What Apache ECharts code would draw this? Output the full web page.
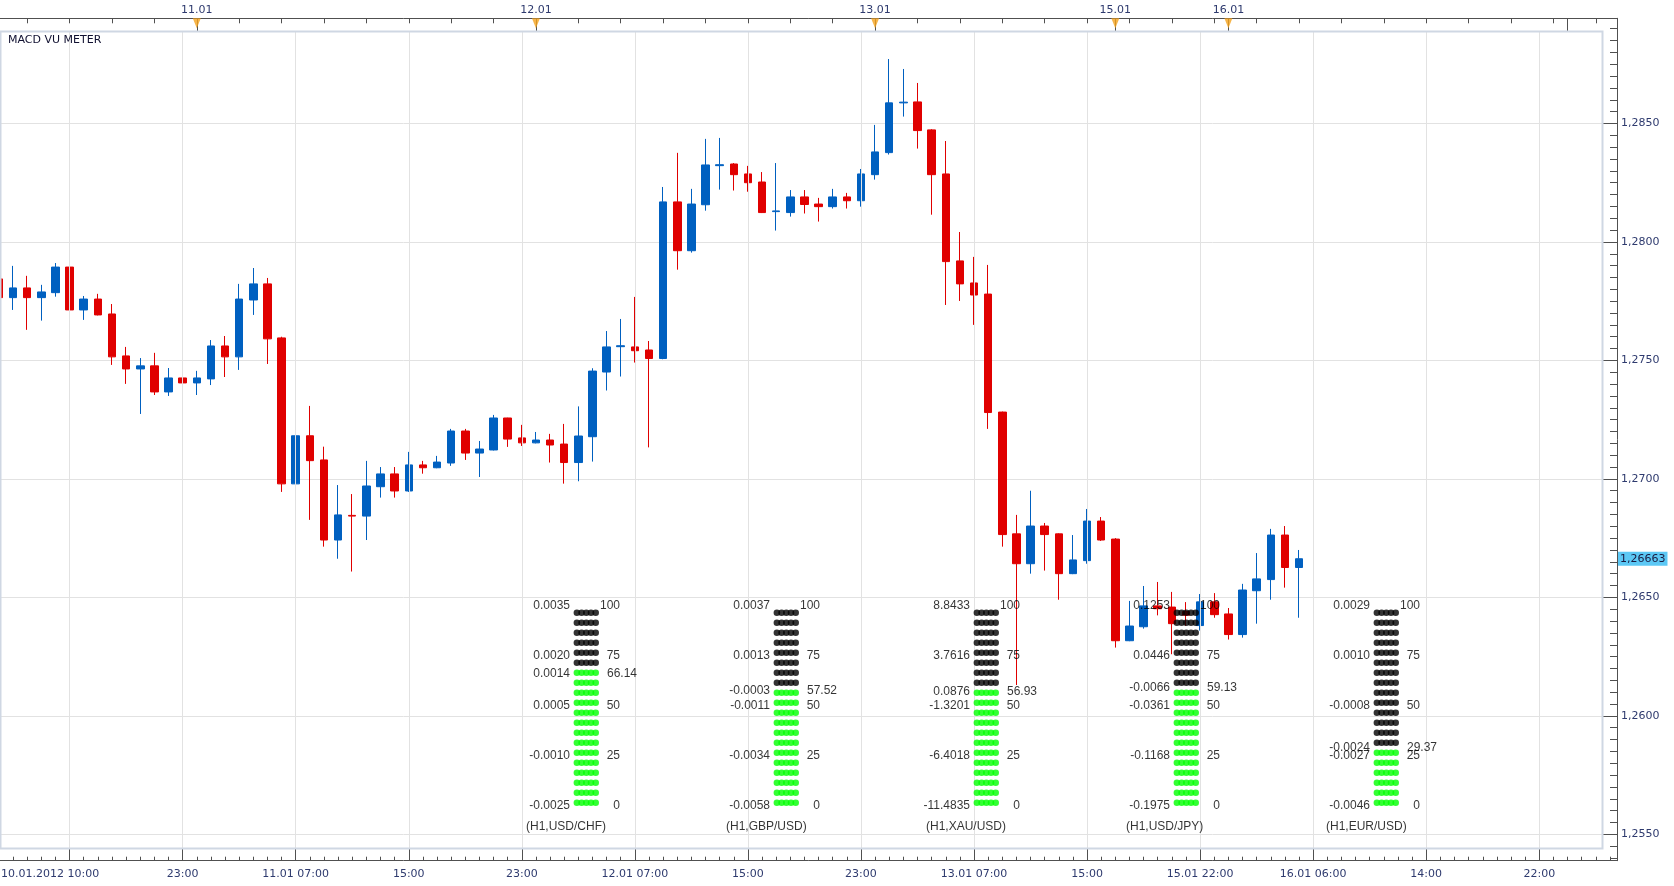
<!DOCTYPE html>
<html><head><meta charset="utf-8">
<script src="https://cdn.jsdelivr.net/npm/echarts@6/dist/echarts.min.js"></script>
<style>html,body{margin:0;padding:0;background:#fff}#c{width:1674px;height:886px}</style>
</head><body><div id="c"></div>
<script>
// ---------- time axis: one H1 bar per slot ----------
const daySegments = [
  ["10.01", 5, 10], ["10.01", 16, 23],
  ["11.01", 0, 23], ["12.01", 0, 23], ["13.01", 0, 16],
  ["15.01", 16, 23], ["16.01", 0, 23], ["17.01", 0, 3]
];
const xTickLabels = ["10.01.2012 10:00","23:00","11.01 07:00","15:00","23:00","12.01 07:00",
  "15:00","23:00","13.01 07:00","15:00","15.01 22:00","16.01 06:00","14:00","22:00"];

// ---------- EUR/USD H1 candles ----------
const open = [1.27844,1.27765,1.27806,1.27765,1.27786,1.27894,1.27713,1.27759,1.27696,1.27519,
1.27464,1.27477,1.27367,1.27426,1.27405,1.27422,1.27561,1.27515,1.27755,1.27823,
1.27595,1.26979,1.27182,1.27080,1.26742,1.26846,1.26843,1.26967,1.27021,1.26949,
1.27059,1.27047,1.27067,1.27202,1.27109,1.27122,1.27257,1.27173,1.27152,1.27164,
1.27147,1.27069,1.27178,1.27451,1.27558,1.27557,1.27544,1.27508,1.28169,1.27963,
1.28157,1.28322,1.28329,1.28287,1.28253,1.28128,1.28124,1.28190,1.28160,1.28149,
1.28190,1.28174,1.28284,1.28377,1.28587,1.28591,1.28473,1.28287,1.27920,1.27827,
1.27780,1.27282,1.26768,1.26642,1.26801,1.26768,1.26600,1.26655,1.26822,1.26746,
1.26317,1.26376,1.26464,1.26459,1.26440,1.26381,1.26481,1.26430,1.26343,1.26528,
1.26575,1.26763,1.26626];
const close = [1.27765,1.27806,1.27765,1.27789,1.27894,1.27713,1.27759,1.27692,1.27515,1.27464,
1.27477,1.27367,1.27426,1.27405,1.27426,1.27561,1.27515,1.27759,1.27823,1.27591,
1.26979,1.27182,1.27077,1.26742,1.26848,1.26843,1.26970,1.27021,1.26949,1.27059,
1.27047,1.27071,1.27202,1.27109,1.27126,1.27257,1.27168,1.27152,1.27164,1.27143,
1.27069,1.27181,1.27455,1.27557,1.27562,1.27541,1.27508,1.28169,1.27963,1.28160,
1.28325,1.28326,1.28284,1.28250,1.28124,1.28131,1.28190,1.28158,1.28149,1.28190,
1.28174,1.28287,1.28380,1.28587,1.28590,1.28470,1.28284,1.27917,1.27823,1.27776,
1.27280,1.26765,1.26642,1.26801,1.26765,1.26600,1.26658,1.26822,1.26742,1.26317,
1.26379,1.26464,1.26452,1.26389,1.26425,1.26481,1.26427,1.26343,1.26531,1.26578,
1.26763,1.26626,1.26663];
const low = [1.27740,1.27713,1.27629,1.27668,1.27769,1.27710,1.27671,1.27690,1.27481,1.27401,
1.27274,1.27354,1.27350,1.27384,1.27354,1.27396,1.27430,1.27460,1.27692,1.27485,
1.26945,1.26801,1.26827,1.26714,1.26663,1.26609,1.26742,1.26921,1.26921,1.26945,
1.27022,1.27045,1.27055,1.27080,1.27008,1.27120,1.27135,1.27139,1.27150,1.27069,
1.26980,1.26990,1.27073,1.27373,1.27432,1.27491,1.27133,1.27505,1.27883,1.27955,
1.28132,1.28221,1.28217,1.28212,1.28122,1.28048,1.28107,1.28120,1.28086,1.28141,
1.28141,1.28149,1.28263,1.28369,1.28529,1.28394,1.28115,1.27734,1.27751,1.27650,
1.27211,1.26714,1.26130,1.26600,1.26613,1.26490,1.26598,1.26642,1.26738,1.26288,
1.26315,1.26368,1.26424,1.26260,1.26380,1.26360,1.26414,1.26322,1.26330,1.26389,
1.26490,1.26541,1.26414];
const high = [1.27870,1.27899,1.27857,1.27819,1.27911,1.27916,1.27772,1.27781,1.27738,1.27557,
1.27510,1.27532,1.27468,1.27464,1.27456,1.27586,1.27603,1.27823,1.27890,1.27848,
1.27600,1.27329,1.27308,1.27136,1.26974,1.26936,1.27076,1.27050,1.27050,1.27114,
1.27076,1.27097,1.27211,1.27211,1.27160,1.27270,1.27258,1.27228,1.27198,1.27190,
1.27232,1.27306,1.27467,1.27624,1.27675,1.27768,1.27582,1.28232,1.28376,1.28224,
1.28435,1.28439,1.28333,1.28321,1.28295,1.28333,1.28219,1.28219,1.28186,1.28224,
1.28207,1.28308,1.28494,1.28772,1.28730,1.28671,1.28476,1.28426,1.28042,1.27937,
1.27903,1.27284,1.26848,1.26950,1.26814,1.26770,1.26763,1.26873,1.26839,1.26750,
1.26485,1.26548,1.26565,1.26523,1.26480,1.26514,1.26518,1.26455,1.26557,1.26687,
1.26789,1.26801,1.26700];

// ---------- MACD VU meters ----------
const meterPairs = ["USD/CHF","GBP/USD","XAU/USD","USD/JPY","EUR/USD"];
const meterLevel = [66.14, 57.52, 56.93, 59.13, 29.37];
const meterMacd  = [0.0014, -0.0003, 0.0876, -0.0066, -0.0024];
const scaleLevels = [100, 75, 50, 25, 0];
const meterScale = [
  [0.0035, 0.0020, 0.0005, -0.0010, -0.0025],
  [0.0037, 0.0013, -0.0011, -0.0034, -0.0058],
  [8.8433, 3.7616, -1.3201, -6.4018, -11.4835],
  [0.1253, 0.0446, -0.0361, -0.1168, -0.1975],
  [0.0029, 0.0010, -0.0008, -0.0027, -0.0046]
];

// ---------- derived ----------
const categories = [];
daySegments.forEach(([d, h0, h1]) => {
  for (let h = h0; h <= h1; h++) categories.push(d + ' ' + String(h).padStart(2, '0') + ':00');
});
const tickMap = new Map();
let curDay = null;
xTickLabels.forEach((lbl, k) => {
  const parts = lbl.split(' ');
  if (parts.length > 1) curDay = parts[0].slice(0, 5);
  tickMap.set(categories.indexOf(curDay + ' ' + parts[parts.length - 1]), k);
});
const dayStarts = [];
categories.forEach((c, i) => { if (i > 0 && c.slice(0, 5) !== categories[i - 1].slice(0, 5)) dayStarts.push(i); });
const dayStartsWithData = dayStarts.filter(i => i < open.length);

const candles = open.map((o, i) => [o, close[i], low[i], high[i]]);

const Y_MIN_A = 1.2550, Y_MIN_B = 1.2540, Y_TOP = 1.289439;
const UP = '#0060c0', DN = '#e00000';
const AX = '#505050', TXT = '#2e3a6e', FONT = 'DejaVu Sans', MFONT = 'Liberation Sans';

// meter dots
const DOT_STEP = 4.7, DOT_SIZE = 6.6;
const greenDots = [], blackDots = [];
meterLevel.forEach((lv, i) => {
  const nGreen = Math.ceil(lv / 5);
  for (let k = 0; k < 20; k++) {
    for (let j = 0; j < 5; j++) {
      const item = { value: [i + 0.5, 5 * k + 2.5], symbolOffset: [(j - 2) * DOT_STEP, 1.7] };
      (k < nGreen ? greenDots : blackDots).push(item);
    }
  }
});
// meter texts
const meterTexts = [];
meterPairs.forEach((p, i) => {
  const x = i + 0.5;
  scaleLevels.forEach((L, r) => {
    meterTexts.push({ name: meterScale[i][r].toFixed(4), value: [x, L],
      label: { align: 'right', offset: [-16.3, 0] } });
    meterTexts.push({ name: String(L), value: [x, L],
      label: { align: 'right', offset: [33.7, 0] } });
  });
  meterTexts.push({ name: meterMacd[i].toFixed(4), value: [x, meterLevel[i]],
    label: { align: 'right', offset: [-16.3, 0] } });
  meterTexts.push({ name: meterLevel[i].toFixed(2), value: [x, meterLevel[i]],
    label: { align: 'left', offset: [20.7, 0] } });
  meterTexts.push({ name: '(H1,' + p + ')', value: [x, 0],
    label: { align: 'left', offset: [-60.3, 20.7] } });
});

const gridX = { left: -8.13, right: 57, outerBoundsMode: 'none', containLabel: false };
const chart = echarts.init(document.getElementById('c'), null, { renderer: 'canvas' });
chart.setOption({
  animation: false,
  backgroundColor: '#ffffff',
  title: { text: 'MACD VU METER', left: 8, top: 34.5, padding: 0,
    textStyle: { fontSize: 11, fontWeight: 'normal', color: '#101030', fontFamily: FONT } },
  graphic: [{ type: 'rect', silent: true, z: 50,
    shape: { x: 0.5, y: 31.5, width: 1602, height: 817 },
    style: { fill: null, stroke: '#cfd7e3', lineWidth: 2 } }],
  grid: [
    Object.assign({ top: 18.3, bottom: 51.7 }, gridX),   // candles + price labels
    Object.assign({ top: 18.3, bottom: 28.0 }, gridX),   // minor price ticks
    Object.assign({ top: 18.3, bottom: 25.3 }, gridX),   // frame axes
    Object.assign({ top: 31.7, bottom: 37.7 }, gridX),   // panel (vertical grid lines)
    { left: 486.3, right: 187.7, top: 606, bottom: 80, outerBoundsMode: 'none', containLabel: false } // meters
  ],
  xAxis: [
    { gridIndex: 0, type: 'category', data: categories, position: 'top',
      axisLine: { show: true, lineStyle: { color: AX } },
      axisTick: { show: true, inside: true, length: 5, alignWithLabel: true, interval: (i) => i % 3 === 2, lineStyle: { color: AX } },
      axisLabel: { show: false }, splitLine: { show: false } },
    { gridIndex: 0, type: 'category', data: categories, position: 'top',
      axisLine: { show: false },
      axisTick: { show: true, inside: true, length: 13, alignWithLabel: true, interval: (i) => dayStarts.includes(i), lineStyle: { color: AX } },
      axisLabel: { show: true, interval: (i) => dayStartsWithData.includes(i), formatter: (v) => v.slice(0, 5),
        margin: 3, color: TXT, fontSize: 11, fontFamily: FONT },
      splitLine: { show: false } },
    { gridIndex: 2, type: 'category', data: categories, position: 'bottom',
      axisLine: { show: true, lineStyle: { color: AX } },
      axisTick: { show: true, inside: true, length: 4, alignWithLabel: true, interval: 0, lineStyle: { color: AX } },
      axisLabel: { show: false }, splitLine: { show: false } },
    { gridIndex: 2, type: 'category', data: categories, position: 'bottom',
      axisLine: { show: false },
      axisTick: { show: true, inside: true, length: 12, alignWithLabel: true, interval: (i) => tickMap.has(i), lineStyle: { color: AX } },
      axisLabel: { show: true, interval: (i) => tickMap.has(i), margin: 8, color: TXT, fontSize: 11, fontFamily: FONT,
        formatter: (v, i) => { const k = tickMap.get(i); const t = xTickLabels[k];
          return k === 0 ? '{first|' + t + '}' : t; },
        rich: { first: { padding: [0, 39, 0, 0], color: TXT, fontSize: 11, fontFamily: FONT } } },
      splitLine: { show: false } },
    { gridIndex: 1, type: 'category', data: categories, show: false },
    { gridIndex: 3, type: 'category', data: categories, show: false },
    { gridIndex: 4, type: 'value', min: 0, max: 5, show: false }
  ],
  yAxis: [
    { gridIndex: 0, type: 'value', position: 'right', min: Y_MIN_A, max: Y_TOP, interval: 0.005,
      axisLine: { show: false },
      axisTick: { show: true, inside: true, length: 14, lineStyle: { color: AX } },
      axisLabel: { show: true, showMaxLabel: false, margin: 4, color: TXT, fontSize: 11, fontFamily: FONT,
        formatter: (v) => v.toFixed(4).replace('.', ',') },
      splitLine: { show: true, lineStyle: { color: '#e2e2e2', width: 1 } } },
    { gridIndex: 1, type: 'value', position: 'right', min: Y_MIN_B, max: Y_TOP, interval: 0.0005,
      axisLine: { show: false },
      axisTick: { show: true, inside: true, length: 7, lineStyle: { color: AX } },
      axisLabel: { show: false }, splitLine: { show: false } },
    { gridIndex: 2, type: 'value', position: 'right', min: 0, max: 1,
      axisLine: { show: true, lineStyle: { color: AX } },
      axisTick: { show: false }, axisLabel: { show: false }, splitLine: { show: false } },
    { gridIndex: 3, type: 'value', min: 0, max: 1, show: false },
    { gridIndex: 4, type: 'value', min: 0, max: 100, show: false }
  ],
  series: [
    { type: 'line', xAxisIndex: 5, yAxisIndex: 3, data: [], z: 1, silent: true,
      markLine: { silent: true, symbol: ['none', 'none'], label: { show: false },
        lineStyle: { color: '#e2e2e2', type: 'solid', width: 1 },
        data: [...tickMap.keys()].map(i => ({ xAxis: categories[i] })) } },
    { type: 'candlestick', xAxisIndex: 0, yAxisIndex: 0, data: candles, barWidth: 8, z: 3,
      itemStyle: { color: UP, color0: DN, borderColor: UP, borderColor0: DN, borderWidth: 1 },
      markLine: { silent: true, symbol: ['none', 'none'], precision: 5,
        lineStyle: { color: 'rgba(0,0,0,0)', width: 0 },
        label: { show: true, position: 'end', distance: 1, formatter: (p) => Number(p.value).toFixed(5).replace('.', ','),
          backgroundColor: '#5cc8f5', color: '#1a1a40', padding: [2, 2, 1, 2], fontSize: 11, fontFamily: FONT },
        data: [{ yAxis: close[close.length - 1] }] } },
    { type: 'scatter', xAxisIndex: 1, yAxisIndex: 0, z: 6, silent: true, clip: false,
      symbol: 'triangle', symbolRotate: 180, symbolSize: [8, 10], symbolOffset: [0, 5],
      itemStyle: { color: '#f5a21b' },
      data: dayStartsWithData.map(i => [categories[i], Y_TOP]) },
    { type: 'scatter', xAxisIndex: 6, yAxisIndex: 4, z: 10, silent: true, clip: false,
      symbol: 'circle', symbolSize: DOT_SIZE, itemStyle: { color: '#00ff00' }, data: greenDots },
    { type: 'scatter', xAxisIndex: 6, yAxisIndex: 4, z: 10, silent: true, clip: false,
      symbol: 'circle', symbolSize: DOT_SIZE, itemStyle: { color: '#000000' }, data: blackDots },
    { type: 'scatter', xAxisIndex: 6, yAxisIndex: 4, z: 11, silent: true, clip: false,
      symbolSize: 1, itemStyle: { color: 'rgba(0,0,0,0)' },
      label: { show: true, position: 'inside', verticalAlign: 'middle', formatter: '{b}',
        fontSize: 12, fontFamily: MFONT, color: '#000000' },
      data: meterTexts }
  ]
});
</script></body></html>
